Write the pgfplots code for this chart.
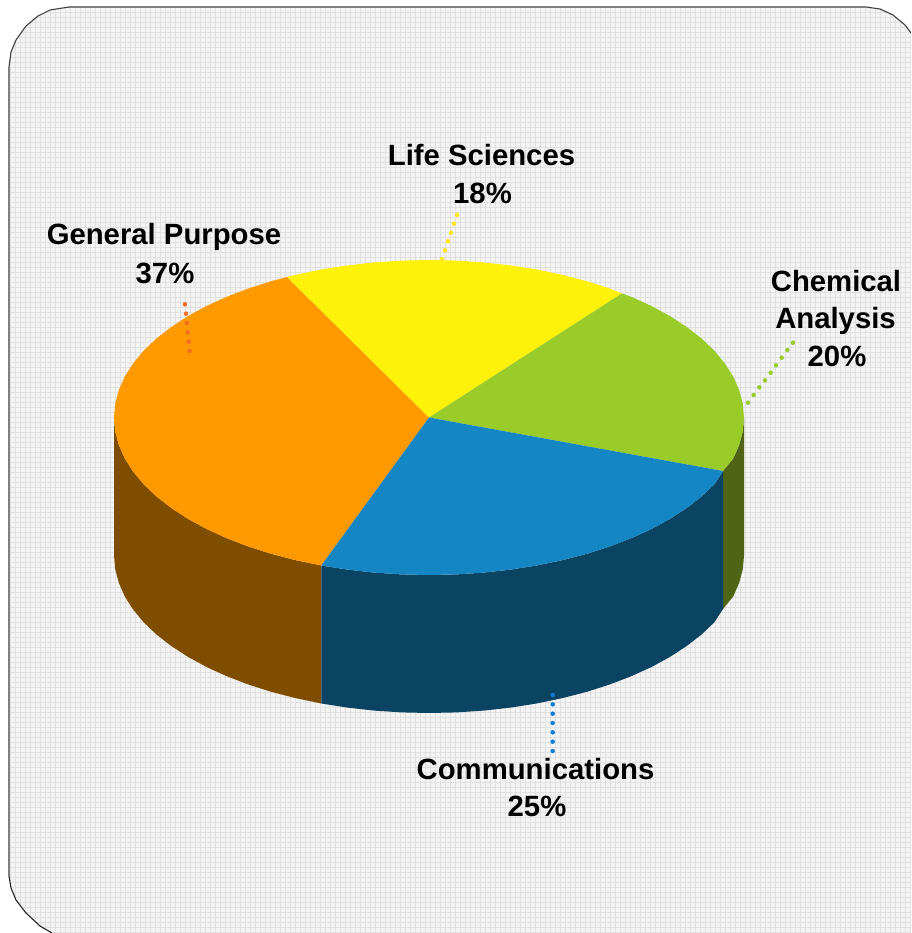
\documentclass[border=0pt]{standalone}
\usepackage{fontspec}
\setmainfont{Liberation Sans}
\usepackage{pgfplots}
\pgfplotsset{compat=1.18}
\usetikzlibrary{patterns.meta}
\definecolor{generalT}{HTML}{FF9900}
\definecolor{generalS}{HTML}{7F4D00}
\definecolor{lifeT}{HTML}{FFF20A}
\definecolor{chemT}{HTML}{99CC29}
\definecolor{chemS}{HTML}{4F6415}
\definecolor{commT}{HTML}{1486C4}
\definecolor{commS}{HTML}{0B4462}
\definecolor{dotG}{HTML}{F26D21}
\definecolor{dotC}{HTML}{0F7FD6}
\definecolor{dotL}{HTML}{FFE81A}
\definecolor{bgbase}{HTML}{F4F4F4}
\definecolor{bgline}{HTML}{E0E0E0}
\newcommand{\lbl}[3]{\node[align=center,font=\fontsize{29.3}{37.5}\selectfont\bfseries,inner sep=0pt,text=black] at (axis cs:#1,#2) {#3};}
\begin{document}
\begin{tikzpicture}
\begin{axis}[
  scale only axis,
  width=911pt, height=933pt,
  xmin=0, xmax=911, ymin=0, ymax=933,
  y dir=reverse,
  hide axis,
]
% hide axis leaves no box, this keeps the whole page
\path (axis cs:0,0) rectangle (axis cs:911,933);
% textured panel, its rounded corners run off the right and bottom edge
\addplot[draw=none, fill=bgbase,
  postaction={pattern={Lines[angle=0,distance=5pt,line width=1pt]},pattern color=bgline},
  postaction={pattern={Lines[angle=90,distance=5pt,line width=1pt]},pattern color=bgline}]
  coordinates {
  (9,67) (11,52) (16,40) (26,26) (38,16) (50,10) (69,7) (866,7) (880,9) (893,15) (905,25) (911,33)
  (911,933) (52,933) (40,926) (26,913) (16,900) (11,888) (9,876)
};
\addplot[color=gray, line width=2.2pt] coordinates {(9,876) (9,67)};
\addplot[color=gray, line width=2.2pt] coordinates {(69,7) (866,7)};
\addplot[color=black!75, line width=1.1pt] coordinates {(9,67) (11,52) (16,40) (26,26) (38,16) (50,10) (69,7)};
\addplot[color=black!75, line width=1.1pt] coordinates {(866,7) (880,9) (893,15) (905,25) (911,33)};
\addplot[color=black!85, line width=1.1pt] coordinates {(9,876) (11,888) (16,900) (26,913) (40,926) (52,933)};

% side walls
\addplot[draw=none, fill=chemS] coordinates {
  (744,417.5) (742.8,431.2) (739.2,444.8) (733.3,458.3) (723,471)
  (723,609) (733.3,596.3) (739.2,582.8) (742.8,569.2) (744,555.5)
};
\addplot[draw=none, fill=generalS] coordinates {
  (321.3,565.5) (295.9,560.2) (271.5,553.9) (248.3,546.5) (226.5,538.1) (206.3,528.9) (187.7,518.7)
  (171,507.8) (156.2,496.3) (143.5,484.1) (133,471.4) (124.7,458.3) (118.8,444.8) (115.2,431.2) (114,417.5)
  (114,555.5) (115.2,569.2) (118.8,582.8) (124.7,596.3) (133,609.4) (143.5,622.1) (156.2,634.3) (171,645.8)
  (187.7,656.7) (206.3,666.9) (226.5,676.1) (248.3,684.5) (271.5,691.9) (295.9,698.2) (321.3,703.5)
};
\addplot[draw=none, fill=commS] coordinates {
  (723,471) (714.5,484.1) (701.8,496.3) (687,507.8) (670.3,518.7) (651.7,528.9) (631.5,538.1) (609.7,546.5)
  (586.5,553.9) (562.1,560.2) (536.7,565.5) (510.5,569.6) (483.7,572.6) (456.5,574.4) (429,575)
  (401.5,574.4) (374.3,572.6) (347.5,569.6) (321.3,565.5)
  (321.3,703.5) (347.5,707.6) (374.3,710.6) (401.5,712.4) (429,713) (456.5,712.4) (483.7,710.6) (510.5,707.6)
  (536.7,703.5) (562.1,698.2) (586.5,691.9) (609.7,684.5) (631.5,676.1) (651.7,666.9) (670.3,656.7) (687,645.8)
  (701.8,634.3) (714.5,622.1) (723,609)
};

% top face
\addplot[draw=none, fill=generalT] coordinates {
  (429,417.5) (321.3,565.5) (295.9,560.2) (271.5,553.9) (248.3,546.5) (226.5,538.1) (206.3,528.9) (187.7,518.7)
  (171,507.8) (156.2,496.3) (143.5,484.1) (133,471.4) (124.7,458.3) (118.8,444.8) (115.2,431.2) (114,417.5)
  (115.2,403.8) (118.8,390.2) (124.7,376.7) (133,363.6) (143.5,350.9) (156.2,338.7) (171,327.2) (187.7,316.3)
  (206.3,306.1) (226.5,296.9) (248.3,288.5) (271.5,281.1) (287,277)
};
\addplot[draw=none, fill=lifeT] coordinates {
  (429,417.5) (287,277) (295.9,274.8) (321.3,269.5) (347.5,265.4) (374.3,262.4) (401.5,260.6) (429,260)
  (456.5,260.6) (483.7,262.4) (510.5,265.4) (536.7,269.5) (562.1,274.8) (586.5,281.1) (609.7,288.5) (622,293.4)
};
\addplot[draw=none, fill=chemT] coordinates {
  (429,417.5) (622,293.4) (631.5,296.9) (651.7,306.1) (670.3,316.3) (687,327.2) (701.8,338.7) (714.5,350.9)
  (725,363.6) (733.3,376.7) (739.2,390.2) (742.8,403.8) (744,417.5) (742.8,431.2) (739.2,444.8) (733.3,458.3) (723,471)
};
\addplot[draw=none, fill=commT] coordinates {
  (429,417.5) (723,471) (714.5,484.1) (701.8,496.3) (687,507.8) (670.3,518.7) (651.7,528.9) (631.5,538.1) (609.7,546.5)
  (586.5,553.9) (562.1,560.2) (536.7,565.5) (510.5,569.6) (483.7,572.6) (456.5,574.4) (429,575)
  (401.5,574.4) (374.3,572.6) (347.5,569.6) (321.3,565.5)
};

% dotted leaders
\addplot[only marks, mark=*, mark size=2pt, color=chemT] coordinates {
  (748,402.7) (753.7,395) (759.3,387.3) (765,380.3) (770.7,372.7) (776,365.3) (781.7,357.7) (787.3,350) (793,342.7)
};
\addplot[only marks, mark=*, mark size=2pt, color=dotG] coordinates {
  (185,304.3) (186,313.7) (186.7,323) (187.7,332.3) (188.7,341.7) (189.7,351)
};
\addplot[only marks, mark=*, mark size=2pt, color=dotC] coordinates {
  (552.7,695) (552.7,704.3) (552.7,713.7) (552.7,723) (552.7,732.3) (552.7,741.7) (552.7,751)
};
\addplot[only marks, mark=*, mark size=2pt, color=dotL] coordinates {
  (457,215) (454,223.7) (451,232.7) (448,241.3) (445,250.3) (442,259)
};

\lbl{481.5}{155}{Life Sciences}
\lbl{482.5}{193}{18\%}
\lbl{164}{237}{General Purpose}
\lbl{165}{273}{37\%}
\lbl{836}{281}{Chemical}
\lbl{835.5}{321}{Analysis}
\lbl{837}{356}{20\%}
\lbl{535.5}{769}{Communications}
\lbl{537}{806}{25\%}
\end{axis}
\end{tikzpicture}
\end{document}
